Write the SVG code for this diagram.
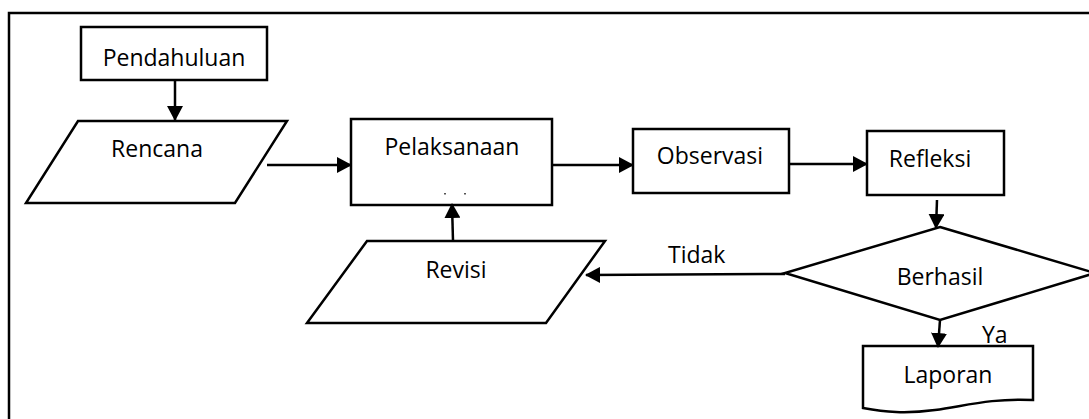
<svg xmlns="http://www.w3.org/2000/svg" width="1089" height="419" viewBox="0 0 1089 419">
<style>
.s{fill:#fff;stroke:#000;stroke-width:2.5}
.t{font-family:"Open Sans","Liberation Sans",sans-serif;font-size:23px;fill:#000;text-anchor:middle}
.c{fill:none;stroke:#000;stroke-width:2.5}
</style>
<defs>
<marker id="ah" markerUnits="userSpaceOnUse" markerWidth="15" markerHeight="16" viewBox="0 0 15 16" refX="14" refY="8" orient="auto">
<path d="M0,0 L15,8 L0,16 Z" fill="#000"/>
</marker>
<clipPath id="bclip"><rect x="800" y="230" width="300" height="56"/></clipPath>
</defs>
<rect x="0" y="0" width="1089" height="419" fill="#fff"/>
<rect x="9" y="13" width="1100" height="420" fill="none" stroke="#000" stroke-width="2.5"/>
<g id="pendahuluan"><rect class="s" x="81" y="27" width="186" height="53"/><text class="t" x="174" y="66">Pendahuluan</text></g>
<g id="rencana"><polygon class="s" points="78,121 287,121 235,203 26,203"/><text class="t" x="157" y="157">Rencana</text></g>
<g id="pelaksanaan"><rect class="s" x="351" y="119" width="201" height="86"/><text class="t" x="452" y="155">Pelaksanaan</text><rect x="444" y="193" width="2" height="1.5" fill="#555"/><rect x="464" y="193" width="2" height="1.5" fill="#555"/></g>
<g id="observasi"><rect class="s" x="633" y="129" width="156" height="64"/><text class="t" x="710" y="164">Observasi</text></g>
<g id="refleksi"><rect class="s" x="867" y="131" width="137" height="64"/><text class="t" x="930" y="167">Refleksi</text></g>
<g id="berhasil"><polygon class="s" points="940,227 1095,273 940,320 785,273"/><text class="t" x="940" y="285" clip-path="url(#bclip)">Berhasil</text></g>
<g id="revisi"><polygon class="s" points="367,241 605,241 546,323 307,323"/><text class="t" x="456" y="278">Revisi</text></g>
<g id="laporan"><path class="s" d="M863,346 H1033 V400 C990,398 965,406 935,410 C905,414 885,412 863,408 Z"/><text class="t" x="948" y="383">Laporan</text></g>
<g id="connectors">
<line class="c" x1="175" y1="80" x2="175" y2="120" marker-end="url(#ah)"/>
<line class="c" x1="267" y1="165" x2="351" y2="165" marker-end="url(#ah)"/>
<line class="c" x1="552" y1="165" x2="633" y2="165" marker-end="url(#ah)"/>
<line class="c" x1="789" y1="164" x2="867" y2="164" marker-end="url(#ah)"/>
<line class="c" x1="937" y1="200" x2="936" y2="228" marker-end="url(#ah)"/>
<line class="c" x1="940" y1="320" x2="938" y2="347" marker-end="url(#ah)"/>
<line class="c" x1="785" y1="274" x2="586" y2="275" marker-end="url(#ah)"/>
<line class="c" x1="453" y1="241" x2="452" y2="204" marker-end="url(#ah)"/>
<text class="t" x="668" y="263" style="text-anchor:start">Tidak</text>
<text class="t" x="982" y="343" style="text-anchor:start">Ya</text>
</g>
</svg>
